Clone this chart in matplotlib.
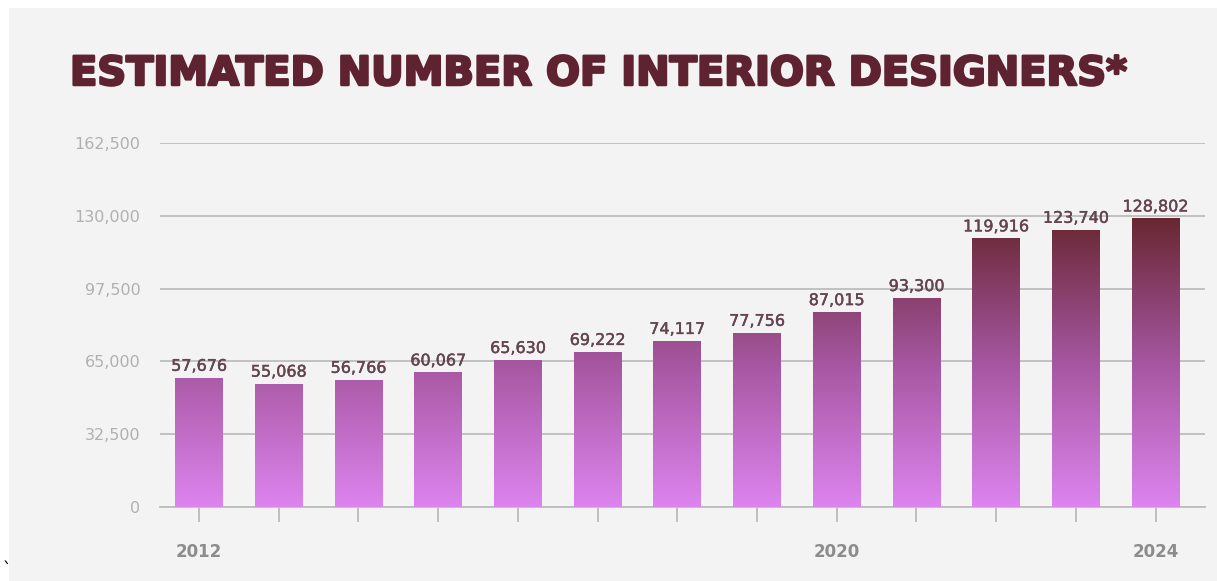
import matplotlib
matplotlib.use("Agg")
import matplotlib.pyplot as plt
import matplotlib.patheffects as pe
import numpy as np
from matplotlib.colors import LinearSegmentedColormap
from matplotlib.patches import Rectangle

years = list(range(2012, 2025))
designers = [57676, 55068, 56766, 60067, 65630, 69222, 74117, 77756,
             87015, 93300, 119916, 123740, 128802]
labeled_years = {2012: "2012", 2020: "2020", 2024: "2024"}
y_ticks = [0, 32500, 65000, 97500, 130000, 162500]

W, H = 1217, 581
fig = plt.figure(figsize=(W / 100, H / 100), dpi=100)
fig.patch.set_facecolor("white")
fig.patches.append(Rectangle((9 / W, 0), 1 - 9 / W, 1 - 8 / H,
                             transform=fig.transFigure, facecolor="#f3f3f3",
                             edgecolor="none", zorder=-10))

ax = fig.add_axes([160 / W, 74 / H, (1205 - 160) / W, (507 - 143) / H])
ax.set_facecolor("none")

x = np.arange(len(years))
bars = ax.bar(x, designers, width=0.6, facecolor="none", edgecolor="none", zorder=3)

# one vertical gradient over the value axis, clipped to each bar
cmap = LinearSegmentedColormap.from_list(
    "grad", ["#dd84ef", "#a5569f", "#682630"])
grad = np.linspace(0, 1, 256).reshape(-1, 1)
for b in bars:
    im = ax.imshow(grad, cmap=cmap, origin="lower", aspect="auto",
                   extent=(b.get_x(), b.get_x() + b.get_width(), 0, 130000),
                   zorder=3, interpolation="bilinear")
    im.set_clip_path(b)

for xi, v in zip(x, designers):
    ax.text(xi, v + 1800, f"{v:,}", ha="center", va="bottom",
            fontsize=11.5, color="#634450", zorder=4,
            path_effects=[pe.withStroke(linewidth=0.3, foreground="#634450")])

ax.set_xlim(-0.49, 12.62)
ax.set_ylim(0, 162500)
ax.set_yticks(y_ticks)
ax.set_yticklabels([f"{t:,}" for t in y_ticks], fontsize=11.5, color="#b0b0b0")
ax.yaxis.grid(True, color="#bdbdbd", linewidth=1.3, zorder=0)
ax.set_axisbelow(True)
ax.tick_params(axis="y", length=0, pad=14)

ax.set_xticks(x)
ax.set_xticklabels([labeled_years.get(y, "") for y in years],
                   fontsize=12, fontweight="bold", color="#8c8c8c")
ax.tick_params(axis="x", length=11, width=1.2, color="#b5b5b5", pad=15)

for s in ["top", "right", "left"]:
    ax.spines[s].set_visible(False)
ax.spines["bottom"].set_color("#bdbdbd")
ax.spines["bottom"].set_linewidth(1.3)

fig.text(70 / W, 1 - 85 / H, "ESTIMATED NUMBER OF INTERIOR DESIGNERS*",
         fontsize=28.8, fontweight="heavy", color="#5e2230", va="baseline", ha="left",
         path_effects=[pe.withStroke(linewidth=1.8, foreground="#5e2230")])
fig.text(3 / W, 1 - 575 / H, "`", fontsize=12, color="black")

fig.savefig("out.png", dpi=100, facecolor=fig.get_facecolor())
